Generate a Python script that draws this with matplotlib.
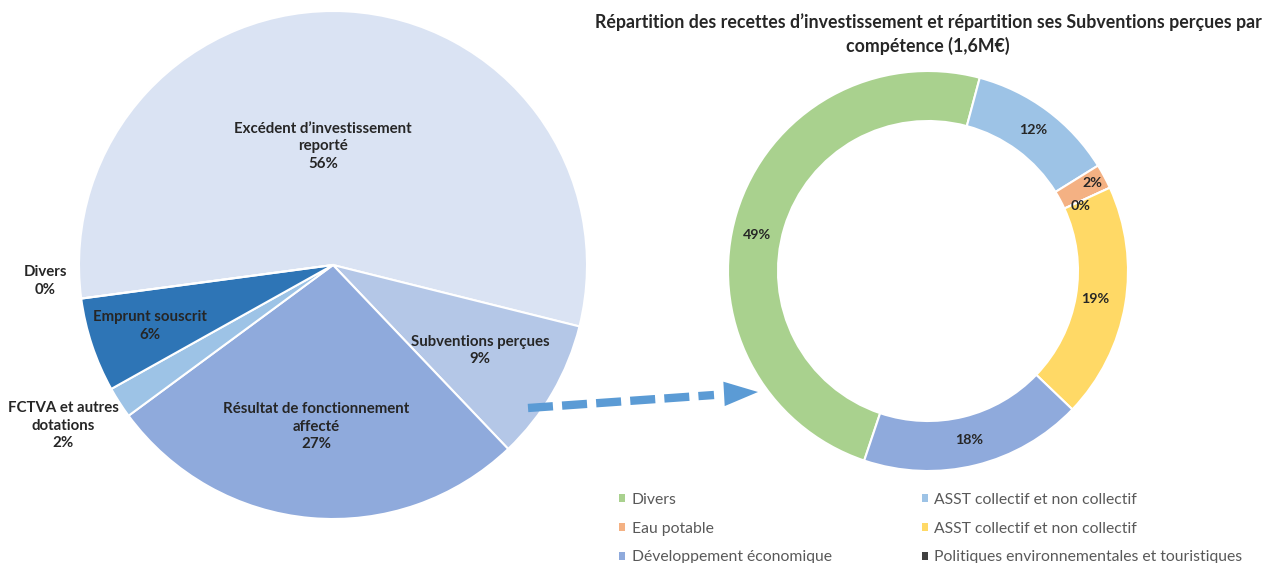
import matplotlib
matplotlib.use("Agg")
import matplotlib.pyplot as plt
from matplotlib.patches import Patch, FancyArrowPatch
import numpy as np

# ---------------- data ----------------
left_labels = ["Excédent d’investissement\nreporté", "Subventions perçues",
               "Résultat de fonctionnement\naffecté", "FCTVA et autres\ndotations",
               "Emprunt souscrit", "Divers"]
left_values = [56, 9, 27, 2, 6, 0]

right_labels = ["Divers", "ASST collectif et non collectif", "Eau potable",
                "Politiques environnementales et touristiques",
                "ASST collectif et non collectif", "Développement économique"]
right_values = [49, 12, 2, 0, 19, 18]

title = ("Répartition des recettes d’investissement et répartition ses Subventions perçues par\n"
         "compétence (1,6M€)")

# ---------------- style ----------------
left_colors = ["#DAE3F3", "#B4C7E7", "#8FAADC", "#9DC3E6", "#2E75B6", "#1F4E79"]
right_colors = ["#A9D18E", "#9DC3E6", "#F4B183", "#404040", "#FFD966", "#8FAADC"]
left_label_dist = [0.47, 0.67, 0.64, 1.237, 0.76, 1.135]
left_label_shift = [8, 0, -1, -2.0, 0, -4.4]
right_label_dist = [0.875, 0.88, 0.93, 0.83, 0.85, 0.87]
right_label_shift = [5, 0, 0, -1.5, 0, 0]
legend_order = [0, 2, 5, 1, 4, 3]
TXT = "#262626"
FONT = "Lato"

W, H = 1263, 563
fig = plt.figure(figsize=(W / 100, H / 100), dpi=100)
ax = fig.add_axes([0, 0, 1, 1])

# left pie
lc = (333, H - 265)
lr = 254
lw_, _ = ax.pie(left_values, colors=left_colors, startangle=187.6, counterclock=False,
                center=lc, radius=lr,
                wedgeprops=dict(edgecolor="white", linewidth=1.5))
tot = sum(left_values)
for w, lab, v, d, s in zip(lw_, left_labels, left_values, left_label_dist, left_label_shift):
    mid = np.deg2rad((w.theta1 + w.theta2) / 2 + s)
    x = lc[0] + d * lr * np.cos(mid)
    y = lc[1] + d * lr * np.sin(mid)
    ax.text(x, y, f"{lab}\n{v / tot * 100:.0f}%", ha="center", va="center",
            fontsize=10.8, fontweight="bold", color=TXT, family=FONT, linespacing=1.32)

# right donut
rc = (928, H - 271)
rr = 200
rw_, _ = ax.pie(right_values, colors=right_colors, startangle=251.4, counterclock=False,
                center=rc, radius=rr,
                wedgeprops=dict(width=rr * 0.25, edgecolor="white", linewidth=1.5))
rtot = sum(right_values)
for w, v, d, s in zip(rw_, right_values, right_label_dist, right_label_shift):
    mid = np.deg2rad((w.theta1 + w.theta2) / 2 + s)
    x = rc[0] + d * rr * np.cos(mid)
    y = rc[1] + d * rr * np.sin(mid)
    ax.text(x, y, f"{v / rtot * 100:.0f}%", ha="center", va="center",
            fontsize=10.3, fontweight="bold", color=TXT, family=FONT)

# title
ax.text(928, H - 34, title, ha="center", va="center", fontsize=12.8, fontweight="bold",
        color=TXT, family=FONT, linespacing=1.38)

# dashed arrow
ac = "#5B9BD5"
ax.plot([528, 714], [H - 408, H - 395], color=ac, lw=6, ls=(0, (3.0, 1.1)),
        solid_capstyle="butt", dash_capstyle="butt")
ax.add_patch(FancyArrowPatch((722, H - 394), (758, H - 392),
                             arrowstyle="-|>,head_length=2.45,head_width=0.88",
                             mutation_scale=10, color=ac, lw=0,
                             shrinkA=0, shrinkB=0))

# legend
handles = [Patch(facecolor=right_colors[i]) for i in legend_order]
labels = [right_labels[i] for i in legend_order]
ax.legend(handles, labels, ncol=2, loc="upper left",
          bbox_to_anchor=(619 / W, (H - 493) / H), bbox_transform=fig.transFigure,
          frameon=False, handlelength=0.4, handleheight=0.4, handletextpad=0.4,
          labelspacing=0.93, columnspacing=5.75, borderpad=0, borderaxespad=0,
          prop=dict(family=FONT, size=11.3), labelcolor="#595959")

ax.set_xlim(0, W)
ax.set_ylim(0, H)
ax.set_aspect("equal")
ax.axis("off")
fig.savefig("out.png", dpi=100)
